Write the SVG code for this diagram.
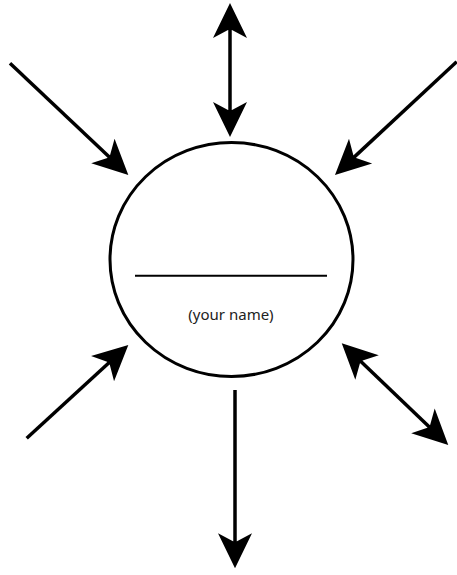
<svg xmlns="http://www.w3.org/2000/svg" width="457" height="575" viewBox="0 0 457 575">
<style>
.conn{stroke:#000;fill:none;stroke-width:3.5}
.head{fill:#000}
</style>
<defs>
<marker id="ah" markerUnits="userSpaceOnUse" markerWidth="80" markerHeight="80" refX="-20" refY="0" orient="auto-start-reverse" overflow="visible">
<path class="head" d="M0,0 L-35,-17 L-27,-2 L-27,2 L-35,17 Z"/>
</marker>
</defs>
<rect width="457" height="575" fill="#fff"/>
<g id="node-self">
<ellipse cx="231.5" cy="259.5" rx="121.5" ry="117" fill="none" stroke="#000" stroke-width="3"/>
<line x1="135" y1="275.7" x2="327" y2="275.7" stroke="#000" stroke-width="2"/>
<text x="231" y="320" text-anchor="middle" font-family="'Noto Sans', 'DejaVu Sans', sans-serif" font-size="15" fill="#222">(your name)</text>
</g>
<g id="connectors">
<path class="conn" d="M230,23 L230,117" marker-start="url(#ah)" marker-end="url(#ah)"/>
<path class="conn" d="M10,63.3 L113.8,161.3" marker-end="url(#ah)"/>
<path class="conn" d="M456.7,61.7 L349.6,161.4" marker-end="url(#ah)"/>
<path class="conn" d="M26.7,438.3 L113.6,358.5" marker-end="url(#ah)"/>
<path class="conn" d="M356.2,357.1 L433.8,431.2" marker-start="url(#ah)" marker-end="url(#ah)"/>
<path class="conn" d="M235,390 L235,548.3" marker-end="url(#ah)"/>
</g>
</svg>
